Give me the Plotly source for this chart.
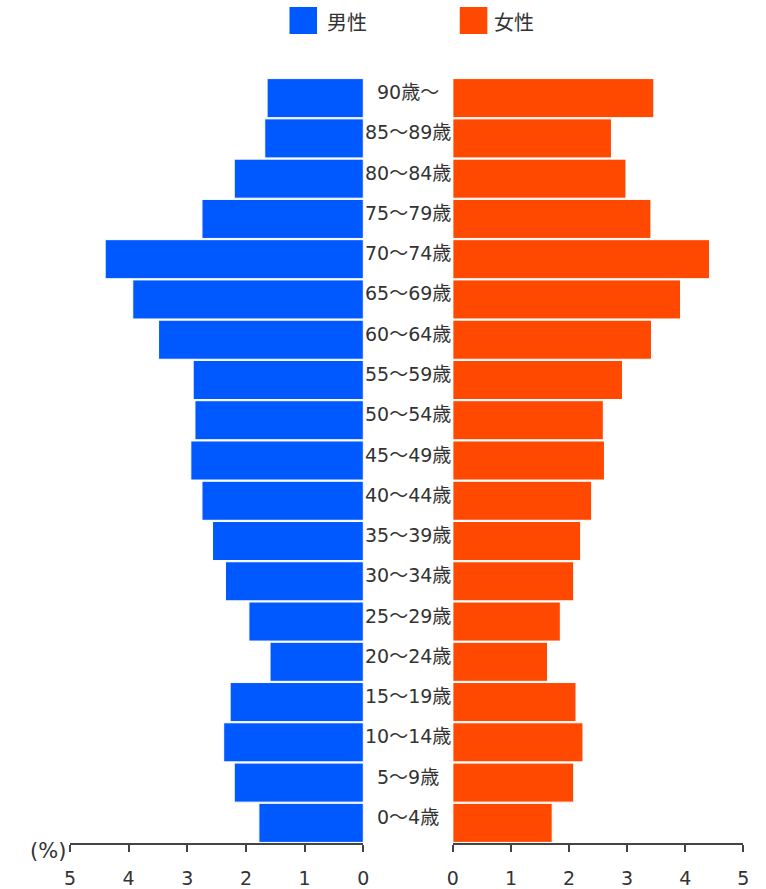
import plotly.graph_objects as go

ages = ["0～4歳", "5～9歳", "10～14歳", "15～19歳", "20～24歳", "25～29歳", "30～34歳",
        "35～39歳", "40～44歳", "45～49歳", "50～54歳", "55～59歳", "60～64歳", "65～69歳",
        "70～74歳", "75～79歳", "80～84歳", "85～89歳", "90歳～"]
male = [1.78, 2.20, 2.38, 2.27, 1.59, 1.95, 2.35, 2.57, 2.75, 2.94, 2.87, 2.90,
        3.49, 3.93, 4.40, 2.75, 2.20, 1.68, 1.64]
female = [1.71, 2.08, 2.24, 2.12, 1.63, 1.85, 2.08, 2.20, 2.39, 2.61, 2.59, 2.92,
          3.42, 3.92, 4.42, 3.41, 2.98, 2.73, 3.46]
ticks = [0, 1, 2, 3, 4, 5]
series_names = ["男性", "女性"]
unit_label = "(%)"
colors = ["#0058FF", "#FF4800"]

W, H = 766, 889
ML, MR, MT, MB = 0, 0, 78, 46
PH = H - MT - MB
FONT = "DejaVu Sans, Noto Sans CJK JP"
CJK = "Noto Sans CJK JP"
TXT = "#333333"

def px(x):
    return x / (W - ML - MR)

def py(y):
    return (H - MB - y) / PH

fig = go.Figure()
fig.add_trace(go.Bar(y=ages, x=male, orientation="h", name=series_names[0],
                     marker=dict(color=colors[0], line=dict(color="white", width=1)),
                     xaxis="x", yaxis="y", showlegend=False))
fig.add_trace(go.Bar(y=ages, x=female, orientation="h", name=series_names[1],
                     marker=dict(color=colors[1], line=dict(color="white", width=1)),
                     xaxis="x2", yaxis="y2", showlegend=False))

axis_common = dict(showgrid=False, zeroline=False, showline=True, linecolor="#444",
                   linewidth=1.5, ticks="outside", ticklen=7, tickwidth=2, tickcolor="#444",
                   tickvals=ticks, ticktext=[str(t) for t in ticks], ticklabelstandoff=10,
                   tickfont=dict(family=FONT, size=19, color=TXT), fixedrange=True)
fig.update_layout(
    width=W, height=H, autosize=False,
    margin=dict(l=ML, r=MR, t=MT, b=MB, pad=0),
    plot_bgcolor="white", paper_bgcolor="white",
    bargap=0.03,
    xaxis=dict(domain=[px(65), px(363)], range=[5, 0], **axis_common),
    xaxis2=dict(domain=[px(454), px(749)], range=[0, 5], **axis_common),
    yaxis=dict(domain=[0, 1], range=[-0.5, 18.5], showticklabels=False, showgrid=False,
               zeroline=False, showline=False, ticks="", anchor="x", type="category",
               categoryorder="array", categoryarray=ages),
    yaxis2=dict(domain=[0, 1], range=[-0.5, 18.5], showticklabels=False, showgrid=False,
                zeroline=False, showline=False, ticks="", anchor="x2", type="category",
                categoryorder="array", categoryarray=ages),
)

# age-group labels between the two halves
for a in ages:
    fig.add_annotation(x=px(408), xref="paper", y=a, yref="y", text=a, showarrow=False,
                       xanchor="center", yanchor="middle", yshift=6,
                       font=dict(family=FONT, size=19, color=TXT))

# unit label
fig.add_annotation(x=px(63), xref="paper", y=py(865), yref="paper", text=unit_label,
                   showarrow=False, xanchor="right", yanchor="bottom",
                   font=dict(family="DejaVu Sans", size=21, color=TXT))

# legend drawn manually
legend_pos = [(288, 324), (461, 494)]
for (sx, tx), name, c in zip(legend_pos, series_names, colors):
    fig.add_shape(type="rect", xref="paper", yref="paper",
                  x0=px(sx), x1=px(sx + 28), y0=py(34), y1=py(7),
                  fillcolor=c, line=dict(width=0))
    fig.add_annotation(x=px(tx), xref="paper", y=py(21), yref="paper", text=name,
                       showarrow=False, xanchor="left", yanchor="middle",
                       font=dict(family=CJK, size=20, color=TXT))

fig.write_html("out.html", config={"displayModeBar": False},
               post_script="document.body.style.margin='0px';")
